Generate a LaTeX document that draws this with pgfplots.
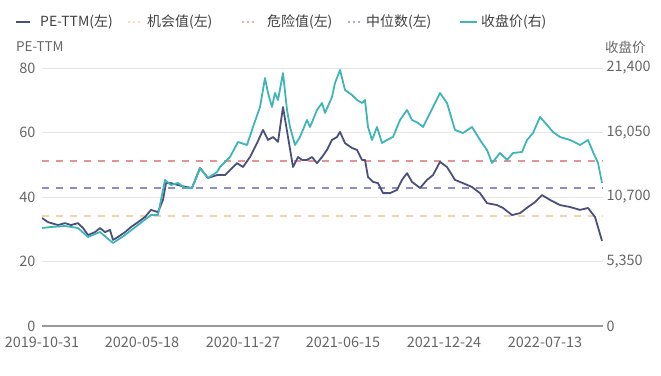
\documentclass[border=0pt]{standalone}
\usepackage{pgfplots}
\pgfplotsset{compat=1.18}
\usepackage{fontspec}
\setmainfont{Noto Sans CJK SC}
\definecolor{pedark}{HTML}{4B4F7C}
\definecolor{closeteal}{HTML}{3FB5B8}
\definecolor{danger}{HTML}{E39595}
\definecolor{median}{HTML}{8E8CC6}
\definecolor{opp}{HTML}{F2D4AA}
\definecolor{lbl}{HTML}{666666}
\pgfplotstableread{
x pe
0 33.5
6 32.2
16 31.3
23 31.9
29 31.3
36 31.9
41 30.4
46 28.2
53 29.1
58 30.4
63 29.1
68 29.8
71 26.7
76 27.6
83 29.1
89 30.7
96 32.2
103 33.8
109 36.0
116 35.3
121 39.1
124 44.3
129 44.3
136 43.7
144 43.1
150 42.8
158 49.0
166 45.9
175 46.8
183 46.8
195 50.5
201 49.3
208 52.4
215 56.7
221 60.8
226 57.7
231 58.6
236 57.1
241 67.9
246 58.6
251 49.3
256 52.4
260 51.5
265 51.5
270 52.4
275 50.5
280 52.4
285 54.6
290 57.7
295 58.6
298 60.2
303 56.7
310 55.2
315 54.6
320 51.5
323 51.5
326 46.2
331 44.7
336 44.3
341 41.2
348 41.2
355 42.2
360 45.3
365 47.4
370 44.7
378 42.8
385 45.3
391 46.8
398 50.9
405 49.3
413 45.3
421 44.3
430 43.1
438 41.2
445 38.1
455 37.5
461 36.6
470 34.4
478 35.0
486 36.9
493 38.4
500 40.6
508 39.1
518 37.5
528 36.9
538 36.0
546 36.6
553 33.8
560 26.4
}\petable
\pgfplotstableread{
x close
0 8129
9 8212
23 8295
36 8129
46 7383
58 7797
71 6885
83 7548
96 8378
109 9207
116 9207
123 12111
129 11696
136 11862
143 11447
150 11447
158 13106
166 12277
175 12774
178 13189
188 14019
196 15263
205 15014
211 16507
218 18166
223 20572
226 19327
230 18166
233 19327
236 18747
241 20986
245 17917
248 16507
253 15014
258 15678
265 17088
268 16507
275 17917
280 18498
283 17668
290 18996
293 20157
298 21235
303 19576
310 19161
315 18747
320 18498
323 18747
326 16507
330 15429
335 16507
340 15180
345 15429
351 15678
358 17088
365 17917
370 17088
376 16839
381 16507
388 17668
398 19327
405 18498
413 16258
421 16009
430 16507
438 15429
445 14599
450 13521
458 14350
465 13770
471 14350
480 14433
485 15429
491 16009
498 17337
505 16673
511 16092
518 15678
528 15429
538 15014
546 15429
551 14433
556 13521
560 11862
}\closetable
\pgfplotstableread{
x v
0 34.1
561 34.1
}\opptable
\pgfplotstableread{
x v
0 51.2
561 51.2
}\dangertable
\pgfplotstableread{
x v
0 42.8
561 42.8
}\mediantable
\begin{document}
\begin{tikzpicture}[x=1bp,y=1bp]
\pgfplotsset{
  every axis/.append style={
    scale only axis, width=561bp, height=258bp,
    xmin=0, xmax=561,
    tick style={draw=none},
    tick label style={font=\fontsize{14.5}{15}\selectfont, text=lbl},
    /pgf/number format/assume math mode=true,
  }
}
\begin{axis}[
  ymin=0, ymax=80,
  ytick={0,20,40,60,80},
  xtick={0,100,201,301,402,503},
  xticklabels={2019-10-31,2020-05-18,2020-11-27,2021-06-15,2021-12-24,2022-07-13},
  axis x line*=bottom, axis y line*=left,
  y axis line style={draw=none},
  x axis line style={draw=black!40, line width=1.3bp, -},
  ymajorgrids, grid style={draw=black!10, line width=0.8bp},
  yticklabel style={xshift=-3bp},
  xticklabel style={yshift=-7bp},
]
\addplot[opp, line width=1.5bp, dash pattern=on 7bp off 7bp] table[x=x,y=v]{\opptable};
\addplot[danger, line width=1.5bp, dash pattern=on 7bp off 7bp] table[x=x,y=v]{\dangertable};
\addplot[median, line width=1.5bp, dash pattern=on 7bp off 7bp] table[x=x,y=v]{\mediantable};
\addplot[pedark, line width=1.8bp, line join=round] table[x=x,y=pe]{\petable};
\end{axis}
\begin{axis}[
  ymin=0, ymax=21400,
  ytick={0,5350,10700,16050,21400},
  scaled y ticks=false,
  /pgf/number format/fixed,
  /pgf/number format/1000 sep={,},
  axis x line=none, axis y line*=right,
  y axis line style={draw=none},
  yticklabel style={xshift=0bp},
]
\addplot[closeteal, line width=1.8bp, line join=round] table[x=x,y=close]{\closetable};
\end{axis}
% axis titles
\node[anchor=west, font=\fontsize{13.5}{14}\selectfont, text=lbl, inner sep=0] at (-26,279) {PE-TTM};
\node[anchor=west, font=\fontsize{13.5}{14}\selectfont, text=lbl, inner sep=0] at (563,279) {收盘价};
% legend
\begin{scope}[font=\fontsize{14}{15}\selectfont, every node/.style={anchor=west, inner sep=0, text=black!75}]
\draw[pedark, line width=2.5bp] (-26,304) -- (-12,304);
\node at (-2,304) {PE-TTM(左)};
\draw[opp, line width=2.2bp, dash pattern=on 0bp off 5bp, line cap=round] (87,304) -- (101,304);
\node at (105,304) {机会值(左)};
\draw[danger, line width=2.2bp, dash pattern=on 0bp off 5bp, line cap=round] (201,304) -- (215,304);
\node at (225,304) {危险值(左)};
\draw[median, line width=2.2bp, dash pattern=on 0bp off 5bp, line cap=round] (307,304) -- (321,304);
\node at (324,304) {中位数(左)};
\draw[closeteal, line width=2.5bp] (418,304) -- (435,304);
\node at (439,304) {收盘价(右)};
\end{scope}
\pgfresetboundingbox
\path (-42,-49) rectangle (619,326);
\end{tikzpicture}
\end{document}
